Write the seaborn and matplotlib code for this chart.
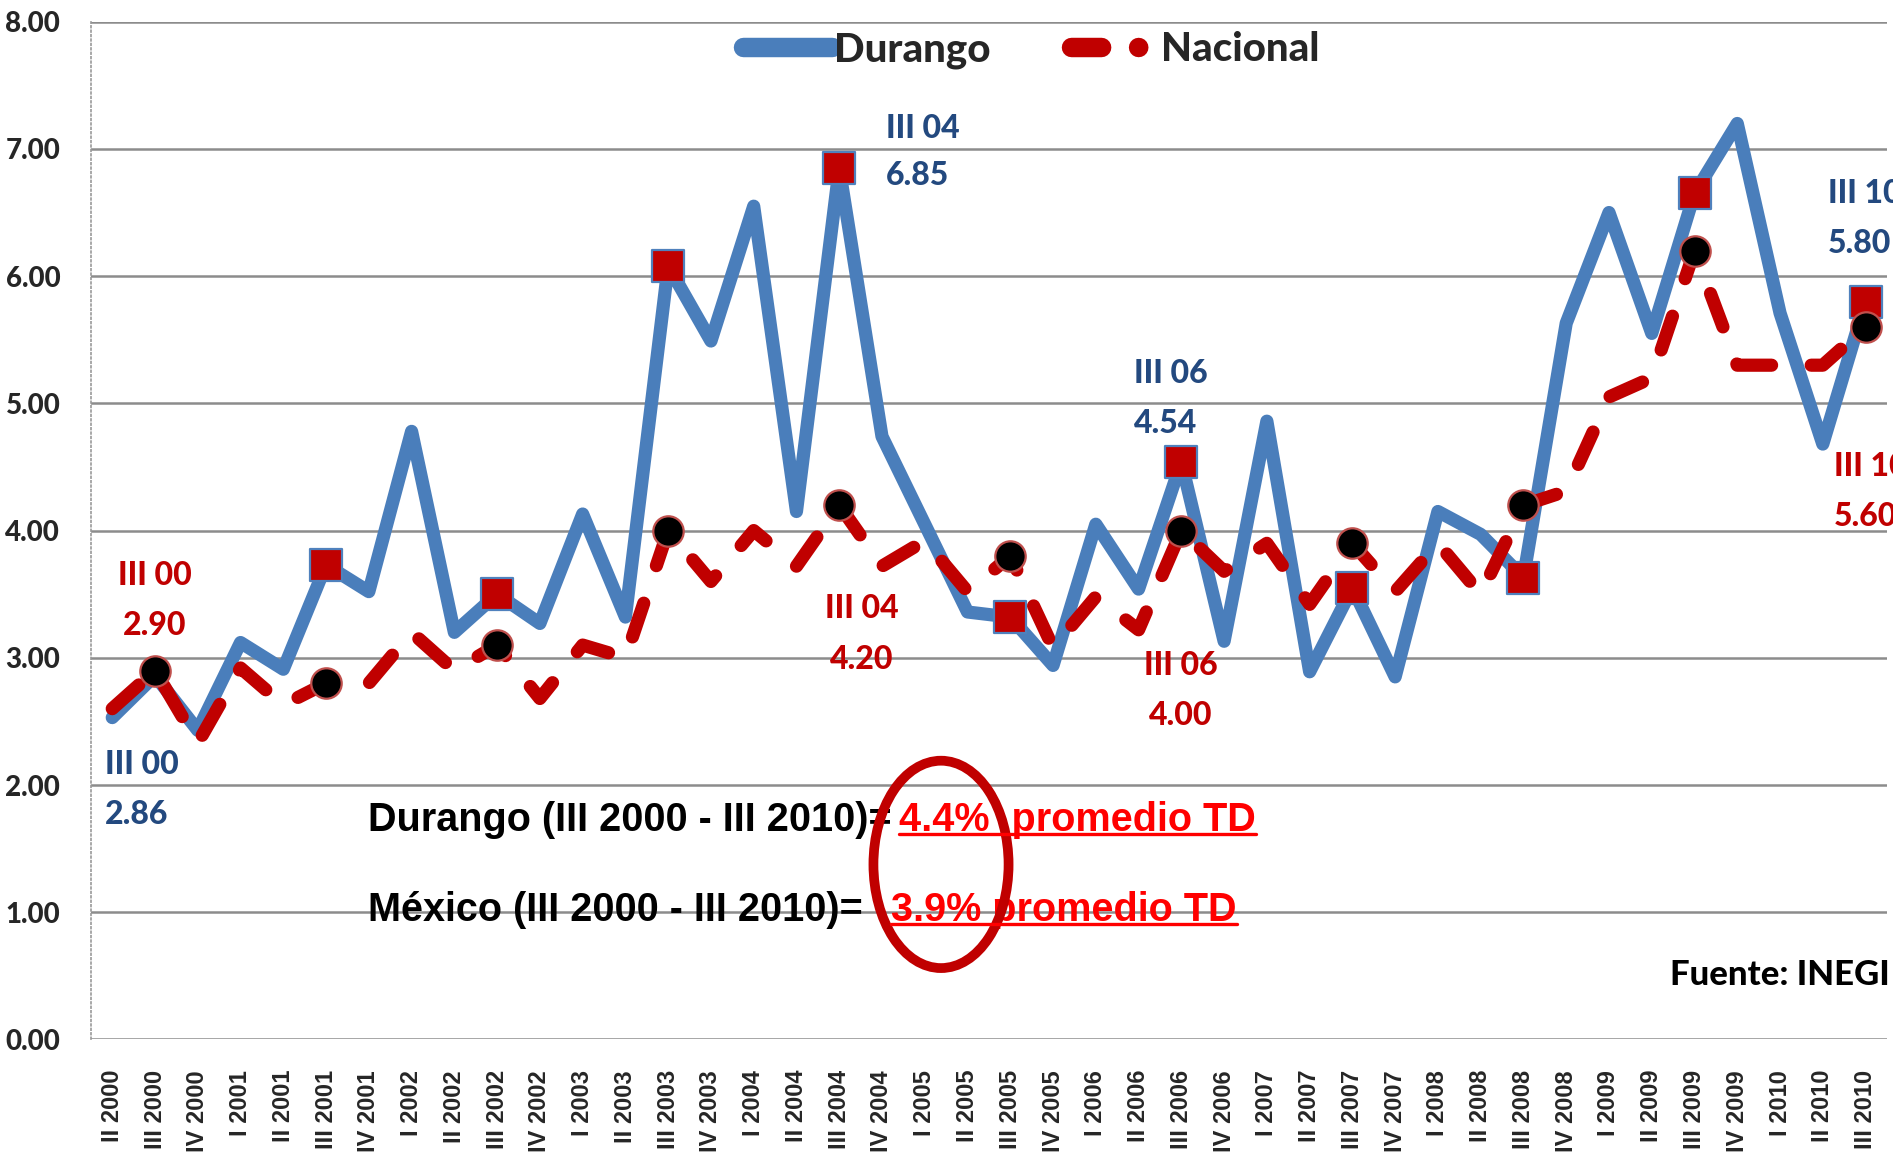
import numpy as np
import pandas as pd
import matplotlib
matplotlib.use("Agg")
import matplotlib.pyplot as plt
from matplotlib.lines import Line2D
from matplotlib.patches import Ellipse
import seaborn as sns

# quarters II 2000 .. III 2010
quarters = ["II 2000", "III 2000", "IV 2000",
            "I 2001", "II 2001", "III 2001", "IV 2001",
            "I 2002", "II 2002", "III 2002", "IV 2002",
            "I 2003", "II 2003", "III 2003", "IV 2003",
            "I 2004", "II 2004", "III 2004", "IV 2004",
            "I 2005", "II 2005", "III 2005", "IV 2005",
            "I 2006", "II 2006", "III 2006", "IV 2006",
            "I 2007", "II 2007", "III 2007", "IV 2007",
            "I 2008", "II 2008", "III 2008", "IV 2008",
            "I 2009", "II 2009", "III 2009", "IV 2009",
            "I 2010", "II 2010", "III 2010"]

durango = [2.53, 2.86, 2.43, 3.12, 2.91, 3.73, 3.52, 4.78, 3.20, 3.50, 3.27,
           4.13, 3.32, 6.08, 5.49, 6.55, 4.15, 6.85, 4.74, 4.05, 3.36, 3.32,
           2.94, 4.05, 3.54, 4.54, 3.13, 4.86, 2.89, 3.55, 2.85, 4.15, 3.97,
           3.63, 5.63, 6.50, 5.55, 6.65, 7.20, 5.71, 4.68, 5.80]

nacional = [2.60, 2.90, 2.33, 2.92, 2.63, 2.80, 2.80, 3.20, 2.90, 3.10, 2.68,
            3.10, 3.00, 4.00, 3.60, 4.00, 3.72, 4.20, 3.72, 3.92, 3.52, 3.80,
            3.08, 3.48, 3.22, 4.00, 3.68, 3.90, 3.42, 3.90, 3.52, 3.90, 3.50,
            4.20, 4.31, 5.05, 5.20, 6.20, 5.30, 5.30, 5.30, 5.60]

durango_marked = ["III 2001", "III 2002", "III 2003", "III 2004", "III 2005",
                  "III 2006", "III 2007", "III 2008", "III 2009", "III 2010"]
nacional_marked = ["III 2000", "III 2001", "III 2002", "III 2003", "III 2004",
                   "III 2005", "III 2006", "III 2007", "III 2008", "III 2009",
                   "III 2010"]

yticks = [0, 1, 2, 3, 4, 5, 6, 7, 8]

# callout labels: (quarter tag, value text)
durango_notes = [("III 00", "2.86"), ("III 04", "6.85"), ("III 06", "4.54"), ("III 10", "5.80")]
nacional_notes = [("III 00", "2.90"), ("III 04", "4.20"), ("III 06", "4.00"), ("III 10", "5.60")]

stat_black = ["Durango (III 2000 - III 2010)=", "México (III 2000 - III 2010)="]
stat_red = ["4.4%  promedio TD", "3.9% promedio TD"]
fuente = "Fuente: INEGI"

BLUE = "#4A7EBB"
RED = "#C00000"
BLUE_TXT = "#23497F"
HEAVY = 900

df = pd.DataFrame({"quarter": quarters, "pos": np.arange(len(quarters)),
                   "durango": durango, "nacional": nacional})

sns.set_style("white")
plt.rcParams["font.family"] = ["Lato", "DejaVu Sans"]
plt.rcParams["font.weight"] = "bold"

fig = plt.figure(figsize=(18.93, 11.61), dpi=100)
ax = fig.add_axes([0.048, 0.1047, 0.9488, 0.8766])

sns.lineplot(data=df, x="pos", y="durango", color=BLUE, linewidth=9.5,
             legend=False, ax=ax, zorder=2)
ln_d = ax.lines[-1]
ln_d.set_solid_joinstyle("round")
ln_d.set_solid_capstyle("round")

sns.scatterplot(data=df[df.quarter.isin(durango_marked)], x="pos", y="durango",
                marker="s", s=560, color=RED, edgecolor="#4F81BD", linewidth=1.6,
                legend=False, ax=ax, zorder=3)

sns.lineplot(data=df, x="pos", y="nacional", color=RED, linewidth=9.5,
             legend=False, ax=ax, zorder=4)
ln_n = ax.lines[-1]
ln_n.set_dashes((2.7, 3.0))
ln_n.set_dash_capstyle("round")
ln_n.set_dash_joinstyle("round")

sns.scatterplot(data=df[df.quarter.isin(nacional_marked)], x="pos", y="nacional",
                marker="o", s=480, color="black", edgecolor="#C0504D", linewidth=1.6,
                legend=False, ax=ax, zorder=5)

ax.set_xlim(-0.5, len(quarters) - 0.5)
ax.set_ylim(0, 8)
ax.set_yticks(yticks)
ax.set_yticklabels([f"{v:.2f}" for v in yticks], fontsize=20, fontweight=HEAVY)
ax.set_xticks(df.pos)
ax.set_xticklabels(quarters, rotation=90, fontsize=17, fontweight="bold",
                   family=["Liberation Sans", "DejaVu Sans"], va="top")
ax.tick_params(axis="y", length=0, pad=22)
ax.tick_params(axis="x", length=0, pad=22)
ax.set_xlabel("")
ax.set_ylabel("")

ax.yaxis.grid(True, color="#8C8C8C", linewidth=1.8)
ax.xaxis.grid(False)
ax.set_axisbelow(True)
for s in ["top", "right", "bottom"]:
    ax.spines[s].set_visible(False)
ax.spines["left"].set_color("#999999")
ax.spines["left"].set_linestyle(":")
ax.spines["left"].set_linewidth(1.2)

# callouts
note_fs = 23
blue_pos = [(-0.17, 2.16, 1.765, "left"), (18.1, 7.16, 6.79, "left"),
            (23.89, 5.235, 4.84, "left"), (40.12, 6.65, 6.26, "left")]
red_pos = [(1.0, 3.65, 3.25, "center"), (17.52, 3.39, 2.99, "center"),
           (24.98, 2.94, 2.55, "center"), (40.26, 4.50, 4.11, "left")]
for (tag, val), (x, y1, y2, ha) in zip(durango_notes, blue_pos):
    ax.text(x, y1, tag, color=BLUE_TXT, fontsize=note_fs, fontweight=HEAVY,
            ha=ha, va="center", zorder=6, clip_on=False)
    ax.text(x, y2, val, color=BLUE_TXT, fontsize=note_fs, fontweight=HEAVY,
            ha=ha, va="center", zorder=6, clip_on=False)
for (tag, val), (x, y1, y2, ha) in zip(nacional_notes, red_pos):
    ax.text(x, y1, tag, color=RED, fontsize=note_fs, fontweight=HEAVY,
            ha=ha, va="center", zorder=6, clip_on=False)
    ax.text(x, y2, val, color=RED, fontsize=note_fs, fontweight=HEAVY,
            ha=ha, va="center", zorder=6, clip_on=False)

# averages
stat_font = ["Liberation Sans", "DejaVu Sans"]
red_texts = []
for txt, y in zip(stat_black, [1.727, 1.018]):
    ax.text(5.98, y, txt, color="black", fontsize=28.5, fontweight="bold",
            family=stat_font, ha="left", va="center", zorder=6)
for txt, x, y in zip(stat_red, [18.40, 18.22], [1.727, 1.018]):
    t = ax.text(x, y, txt, color="#FF0000", fontsize=28.5, fontweight="bold",
                family=stat_font, ha="left", va="center", zorder=6)
    red_texts.append(t)

ax.add_patch(Ellipse((19.38, 1.376), 3.16, 1.63, fill=False, edgecolor=RED,
                     linewidth=7, zorder=7))

ax.text(41.57, 0.503, fuente, color="black", fontsize=25, fontweight=HEAVY,
        ha="right", va="center", zorder=6)

# legend
handles = [Line2D([], [], color=BLUE, linewidth=14, solid_capstyle="round"),
           Line2D([], [], color=RED, linewidth=14, dashes=(1.55, 1.9, 0.01, 3),
                  dash_capstyle="round")]
leg = ax.legend(handles, ["Durango", "Nacional"], loc="center",
                bbox_to_anchor=(0.5237, 0.972), ncol=2, frameon=False,
                prop={"size": 29, "weight": HEAVY}, handlelength=2.2,
                handletextpad=0.05, columnspacing=2.0)

# underline the red averages
fig.canvas.draw()
renderer = fig.canvas.get_renderer()
inv = fig.transFigure.inverted()
for t in red_texts:
    bb = t.get_window_extent(renderer)
    yl = bb.y0 + 0.12 * bb.height
    (x0, y0), (x1, _) = inv.transform([(bb.x0, yl), (bb.x1, yl)])
    fig.add_artist(Line2D([x0, x1], [y0, y0], color="#FF0000", linewidth=2.4,
                          transform=fig.transFigure, zorder=8))

fig.savefig("out.png", dpi=100)
